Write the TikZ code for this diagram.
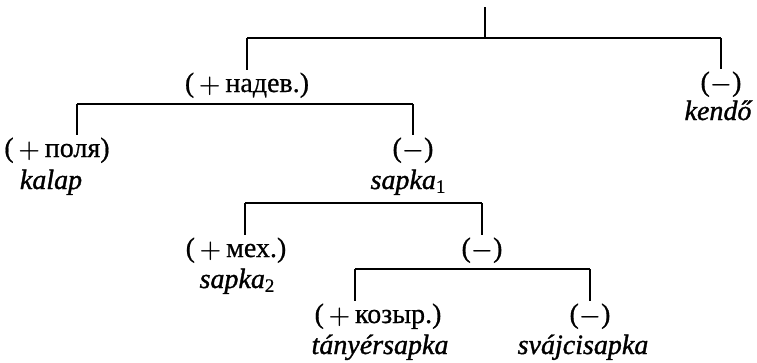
\documentclass[tikz,border=0pt]{standalone}
\usepackage{fontspec}
\setmainfont{Liberation Serif}[UprightFeatures={FakeBold=0.6},ItalicFeatures={FakeBold=1.2}]
\usetikzlibrary{positioning}

\newcommand{\idx}[1]{\raisebox{-0.3ex}{\fontsize{19}{19}\selectfont\upshape #1}}
\newcommand{\plusf}[1]{(\,{\boldmath$+$}\,#1)}
\newcommand{\minusf}{({\boldmath$-$})}

\begin{document}
\begin{tikzpicture}[x=1pt,y=-1pt,
	feat/.style={anchor=base,inner sep=2pt,font=\fontsize{28}{30}\selectfont},
	word/.style={anchor=base,inner sep=2pt,font=\fontsize{28}{30}\selectfont\itshape},
	bar/.style={line width=1.3pt}]

\useasboundingbox (0,0) rectangle (757,362);

% bar ends
\coordinate (root) at (485,7);
\coordinate (b1m) at (485,38);
\coordinate (b1l) at (247,38);
\coordinate (b1r) at (721,38);
\coordinate (b2l) at (77,104);
\coordinate (b2r) at (413,104);
\coordinate (b3l) at (245,203);
\coordinate (b3r) at (482,203);
\coordinate (b4l) at (355,269);
\coordinate (b4r) at (590,269);

% labels
\node[feat] (nadev) at (247,92) {\plusf{надев.}};
\node[feat] (minA) at (721,91) {\minusf};
\node[word] (kendo) at (718,120) {kendő};

\node[feat] (polja) at (57,157) {\plusf{поля}};
\node[word] (kalap) at (51,189) {kalap};
\node[feat] (minB) at (413,157) {\minusf};
\node[word] (sapkaA) at (408,189) {sapka\idx{1}};

\node[feat] (meh) at (236,257) {\plusf{мех.}};
\node[word] (sapkaB) at (237,288) {sapka\idx{2}};
\node[feat] (minC) at (482,257) {\minusf};

\node[feat] (kozyr) at (378,323) {\plusf{козыр.}};
\node[word] (tanyer) at (380,354) {tányérsapka};
\node[feat] (minD) at (590,323) {\minusf};
\node[word] (svajci) at (583,354) {svájcisapka};

% tree lines
\draw[bar] (root) -- (b1m);
\draw[bar] (b1l) -- (b1r);
\draw[bar] (b1l) -- (b1l |- nadev.north);
\draw[bar] (b1r) -- (b1r |- minA.north);

\draw[bar] (b2l) -- (b2r);
\draw[bar] (b2l) -- (b2l |- polja.north);
\draw[bar] (b2r) -- (b2r |- minB.north);

\draw[bar] (b3l) -- (b3r);
\draw[bar] (b3l) -- (b3l |- meh.north);
\draw[bar] (b3r) -- (b3r |- minC.north);

\draw[bar] (b4l) -- (b4r);
\draw[bar] (b4l) -- (b4l |- kozyr.north);
\draw[bar] (b4r) -- (b4r |- minD.north);

\end{tikzpicture}
\end{document}
